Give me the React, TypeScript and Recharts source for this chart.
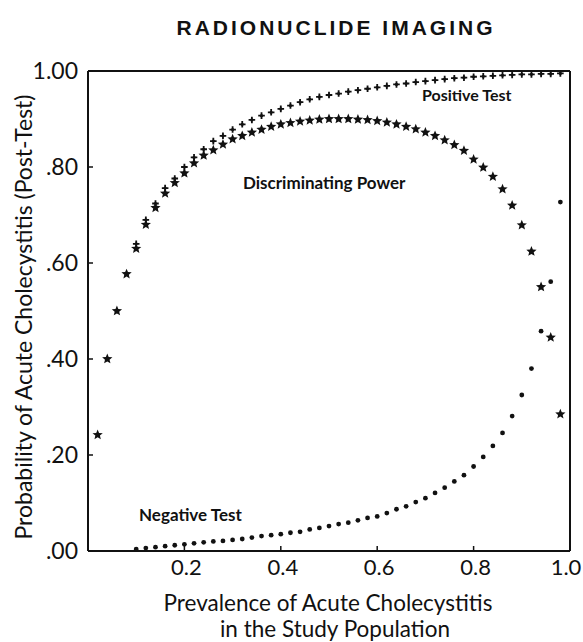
import React from "react";
import {
  ReferenceLine,
  Scatter,
  ScatterChart,
  XAxis,
  YAxis,
} from "recharts";

// prevalence values (x) for each series
const discX = [
  0.02, 0.04, 0.06, 0.08, 0.1, 0.12, 0.14, 0.16, 0.18, 0.2, 0.22, 0.24, 0.26,
  0.28, 0.3, 0.32, 0.34, 0.36, 0.38, 0.4, 0.42, 0.44, 0.46, 0.48, 0.5, 0.52,
  0.54, 0.56, 0.58, 0.6, 0.62, 0.64, 0.66, 0.68, 0.7, 0.72, 0.74, 0.76, 0.78,
  0.8, 0.82, 0.84, 0.86, 0.88, 0.9, 0.92, 0.94, 0.96, 0.98,
];
const discY = [
  0.242, 0.4, 0.5, 0.577, 0.63, 0.68, 0.715, 0.745, 0.767, 0.787, 0.808, 0.824,
  0.835, 0.847, 0.858, 0.865, 0.872, 0.878, 0.884, 0.889, 0.892, 0.895, 0.897,
  0.899, 0.9, 0.9, 0.9, 0.899, 0.898, 0.896, 0.893, 0.889, 0.884, 0.879, 0.872,
  0.865, 0.856, 0.846, 0.834, 0.816, 0.799, 0.78, 0.754, 0.72, 0.679, 0.624,
  0.55, 0.445, 0.285,
];

const posX = [
  0.1, 0.12, 0.14, 0.16, 0.18, 0.2, 0.22, 0.24, 0.26, 0.28, 0.3, 0.32, 0.34,
  0.36, 0.38, 0.4, 0.42, 0.44, 0.46, 0.48, 0.5, 0.52, 0.54, 0.56, 0.58, 0.6,
  0.62, 0.64, 0.66, 0.68, 0.7, 0.72, 0.74, 0.76, 0.78, 0.8, 0.82, 0.84, 0.86,
  0.88, 0.9, 0.92, 0.94, 0.96, 0.98,
];
const posY = [
  0.64, 0.69, 0.724, 0.756, 0.776, 0.8, 0.82, 0.837, 0.854, 0.865, 0.878, 0.889,
  0.898, 0.907, 0.914, 0.921, 0.928, 0.935, 0.941, 0.946, 0.95, 0.953, 0.957,
  0.96, 0.963, 0.966, 0.969, 0.972, 0.974, 0.977, 0.979, 0.981, 0.983, 0.985,
  0.986, 0.988, 0.989, 0.99, 0.991, 0.992, 0.993, 0.993, 0.994, 0.994, 0.995,
];

const negX = posX;
const negY = [
  0.004, 0.006, 0.008, 0.01, 0.012, 0.014, 0.016, 0.018, 0.02, 0.021, 0.023,
  0.025, 0.028, 0.031, 0.033, 0.035, 0.038, 0.04, 0.045, 0.048, 0.052, 0.056,
  0.059, 0.064, 0.069, 0.072, 0.079, 0.087, 0.093, 0.102, 0.11, 0.121, 0.132,
  0.145, 0.158, 0.176, 0.196, 0.219, 0.246, 0.281, 0.325, 0.38, 0.458, 0.561,
  0.727,
];

const xTicks = [0.2, 0.4, 0.6, 0.8, 1.0];
const xTickLabels = ["0.2", "0.4", "0.6", "0.8", "1.0"];
const yTicks = [0, 0.2, 0.4, 0.6, 0.8, 1.0];
const yTickLabels = [".00", ".20", ".40", ".60", ".80", "1.00"];

const toPoints = (xs: number[], ys: number[]) =>
  xs.map((x, i) => ({ x, y: ys[i] }));

const INK = "#111";
const FONT = "Lato, 'DejaVu Sans', sans-serif";

const StarMark = (props: any) => {
  const { cx, cy } = props;
  if (cx == null || cy == null) return null;
  const R = 5.4;
  const r = 2.4;
  let d = "";
  for (let i = 0; i < 10; i++) {
    const rad = i % 2 === 0 ? R : r;
    const a = -Math.PI / 2 + (i * Math.PI) / 5;
    d += (i === 0 ? "M" : "L") + (cx + rad * Math.cos(a)) + "," + (cy + rad * Math.sin(a));
  }
  return <path d={d + "Z"} fill={INK} />;
};

const PlusMark = (props: any) => {
  const { cx, cy } = props;
  if (cx == null || cy == null) return null;
  return (
    <g>
      <path
        d={`M${cx - 3.3},${cy}H${cx + 3.3}M${cx},${cy - 3.3}V${cy + 3.3}`}
        stroke={INK}
        strokeWidth={1.8}
      />
      <circle cx={cx} cy={cy} r={1.6} fill={INK} />
    </g>
  );
};

const DotMark = (props: any) => {
  const { cx, cy } = props;
  if (cx == null || cy == null) return null;
  return <circle cx={cx} cy={cy} r={2.4} fill={INK} />;
};

// x tick labels sit a bit off their ticks in the scan; last one pulled in
const XTick = (props: any) => {
  const { x, y, payload } = props;
  const i = xTicks.indexOf(payload.value);
  const dx = payload.value === 1 ? -4 : 2;
  return (
    <text
      x={x + dx}
      y={y}
      dy="0.71em"
      textAnchor="middle"
      fill={INK}
      fontSize={22}
      fontFamily={FONT}
    >
      {xTickLabels[i] ?? ""}
    </text>
  );
};

export default function App() {
  return (
    <div style={{ position: "relative", width: 583, height: 642, background: "#fff" }}>
      <style>{"body{margin:0}"}</style>
      <ScatterChart
        width={583}
        height={642}
        margin={{ top: 71, right: 13, bottom: 61, left: 0 }}
      >
        <XAxis
          type="number"
          dataKey="x"
          domain={[0, 1]}
          ticks={xTicks}
          height={30}
          axisLine={{ stroke: INK, strokeWidth: 2 }}
          tickLine={{ stroke: INK, strokeWidth: 1.5 }}
          tickSize={-5}
          tickMargin={13}
          tick={XTick}
          allowDataOverflow
        />
        <YAxis
          type="number"
          dataKey="y"
          domain={[0, 1]}
          ticks={yTicks}
          tickFormatter={(v: number) => yTickLabels[yTicks.indexOf(v)] ?? ""}
          width={88}
          axisLine={{ stroke: INK, strokeWidth: 2 }}
          tickLine={{ stroke: INK, strokeWidth: 1.5 }}
          tickSize={-5}
          tickMargin={15}
          tick={{ fill: INK, fontSize: 23, fontFamily: FONT }}
          allowDataOverflow
        />
        <ReferenceLine y={1} stroke={INK} strokeWidth={2} />
        <ReferenceLine x={1} stroke={INK} strokeWidth={2} />
        <Scatter
          name="Negative Test"
          data={toPoints(negX, negY)}
          shape={DotMark}
          isAnimationActive={false}
        />
        <Scatter
          name="Discriminating Power"
          data={toPoints(discX, discY)}
          shape={StarMark}
          isAnimationActive={false}
        />
        <Scatter
          name="Positive Test"
          data={toPoints(posX, posY)}
          shape={PlusMark}
          isAnimationActive={false}
        />
      </ScatterChart>
      <svg
        width={583}
        height={642}
        style={{ position: "absolute", left: 0, top: 0, pointerEvents: "none" }}
      >
        <text
          x={336}
          y={35}
          textAnchor="middle"
          fontFamily="'Liberation Sans', Arial, sans-serif"
          fontWeight={700}
          fontSize={21}
          letterSpacing={3}
          fill={INK}
        >
          RADIONUCLIDE IMAGING
        </text>
        <text
          transform="translate(32,317) rotate(-90)"
          textAnchor="middle"
          fontFamily={FONT}
          fontSize={23}
          fill={INK}
        >
          Probability of Acute Cholecystitis (Post-Test)
        </text>
        <text x={328} y={611} textAnchor="middle" fontFamily={FONT} fontSize={22.5} fill={INK}>
          Prevalence of Acute Cholecystitis
        </text>
        <text x={335} y={637} textAnchor="middle" fontFamily={FONT} fontSize={22.5} fill={INK}>
          in the Study Population
        </text>
        <text x={422} y={101} fontFamily={FONT} fontWeight={700} fontSize={16} fill={INK}>
          Positive Test
        </text>
        <text x={243} y={189} fontFamily={FONT} fontWeight={700} fontSize={17} fill={INK}>
          Discriminating Power
        </text>
        <text x={139} y={521} fontFamily={FONT} fontWeight={700} fontSize={17} fill={INK}>
          Negative Test
        </text>
      </svg>
    </div>
  );
}
